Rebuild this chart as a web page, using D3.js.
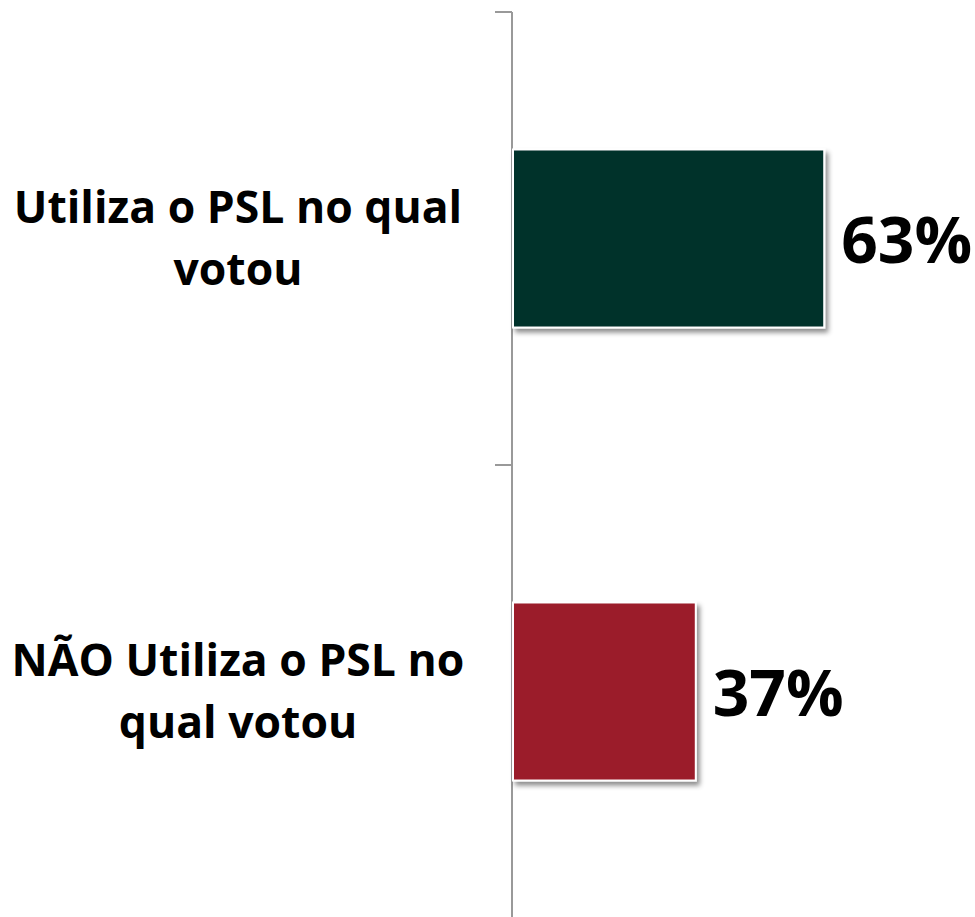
<!DOCTYPE html>
<html>
<head>
<meta charset="utf-8">
<script src="https://cdn.jsdelivr.net/npm/d3@7"></script>
<style>
  body { margin: 0; background: #fff; }
  svg { display: block; }
</style>
</head>
<body>
<svg id="chart"></svg>
<script>
// data
const categories = [
  ["Utiliza o PSL no qual", "votou"],
  ["NÃO Utiliza o PSL no", "qual votou"]
];
const values = [63, 37];
const valueLabels = ["63%", "37%"];
const barColors = ["#04302c", "#9b1d29"];

const width = 975, height = 917;
const axisX = 512;

const svg = d3.select("#chart")
  .attr("width", width)
  .attr("height", height);

// drop shadow for the bars
const defs = svg.append("defs");
defs.append("filter")
  .attr("id", "shadow")
  .attr("x", "-10%").attr("y", "-10%")
  .attr("width", "130%").attr("height", "130%")
  .append("feDropShadow")
  .attr("dx", 3).attr("dy", 4)
  .attr("stdDeviation", 2.5)
  .attr("flood-color", "#000")
  .attr("flood-opacity", 0.45);

const y = d3.scaleBand()
  .domain(d3.range(values.length))
  .range([12, 918])
  .paddingInner(0.607)
  .paddingOuter(0.3035);

const x = d3.scaleLinear()
  .domain([0, 100])
  .range([axisX, axisX + 494]);

// axis line + ticks at the band boundaries
svg.append("line")
  .attr("x1", axisX).attr("x2", axisX)
  .attr("y1", 12).attr("y2", height)
  .attr("stroke", "#999")
  .attr("stroke-width", 2);

const tickYs = d3.range(values.length).map(i => 12 + i * y.step());
svg.selectAll(".tick")
  .data(tickYs)
  .join("line")
  .attr("class", "tick")
  .attr("x1", axisX - 17).attr("x2", axisX)
  .attr("y1", d => d).attr("y2", d => d)
  .attr("stroke", "#999")
  .attr("stroke-width", 2);

// bars
svg.selectAll(".bar")
  .data(values)
  .join("rect")
  .attr("class", "bar")
  .attr("x", x(0) + 1)
  .attr("y", (d, i) => y(i))
  .attr("width", d => x(d) - x(0))
  .attr("height", y.bandwidth())
  .attr("fill", (d, i) => barColors[i])
  .attr("stroke", "#fff")
  .attr("stroke-width", 2)
  .attr("filter", "url(#shadow)");

// value labels
svg.selectAll(".val")
  .data(values)
  .join("text")
  .attr("class", "val")
  .attr("x", d => x(d) + 18)
  .attr("y", (d, i) => y(i) + y.bandwidth() / 2 + 24)
  .style("font-family", "'Open Sans', sans-serif")
  .style("font-weight", "bold")
  .style("font-size", "64px")
  .attr("fill", "#000")
  .text((d, i) => valueLabels[i]);

// category labels
const cat = svg.selectAll(".cat")
  .data(categories)
  .join("text")
  .attr("class", "cat")
  .attr("text-anchor", "middle")
  .style("font-family", "'Open Sans', sans-serif")
  .style("font-weight", "bold")
  .style("font-size", "44.5px")
  .attr("fill", "#000");

cat.selectAll("tspan")
  .data((d, i) => d.map((t, j) => ({ t, j, i })))
  .join("tspan")
  .attr("x", 238)
  .attr("y", d => y(d.i) + y.bandwidth() / 2 - 16 + d.j * 62)
  .text(d => d.t);
</script>
</body>
</html>
